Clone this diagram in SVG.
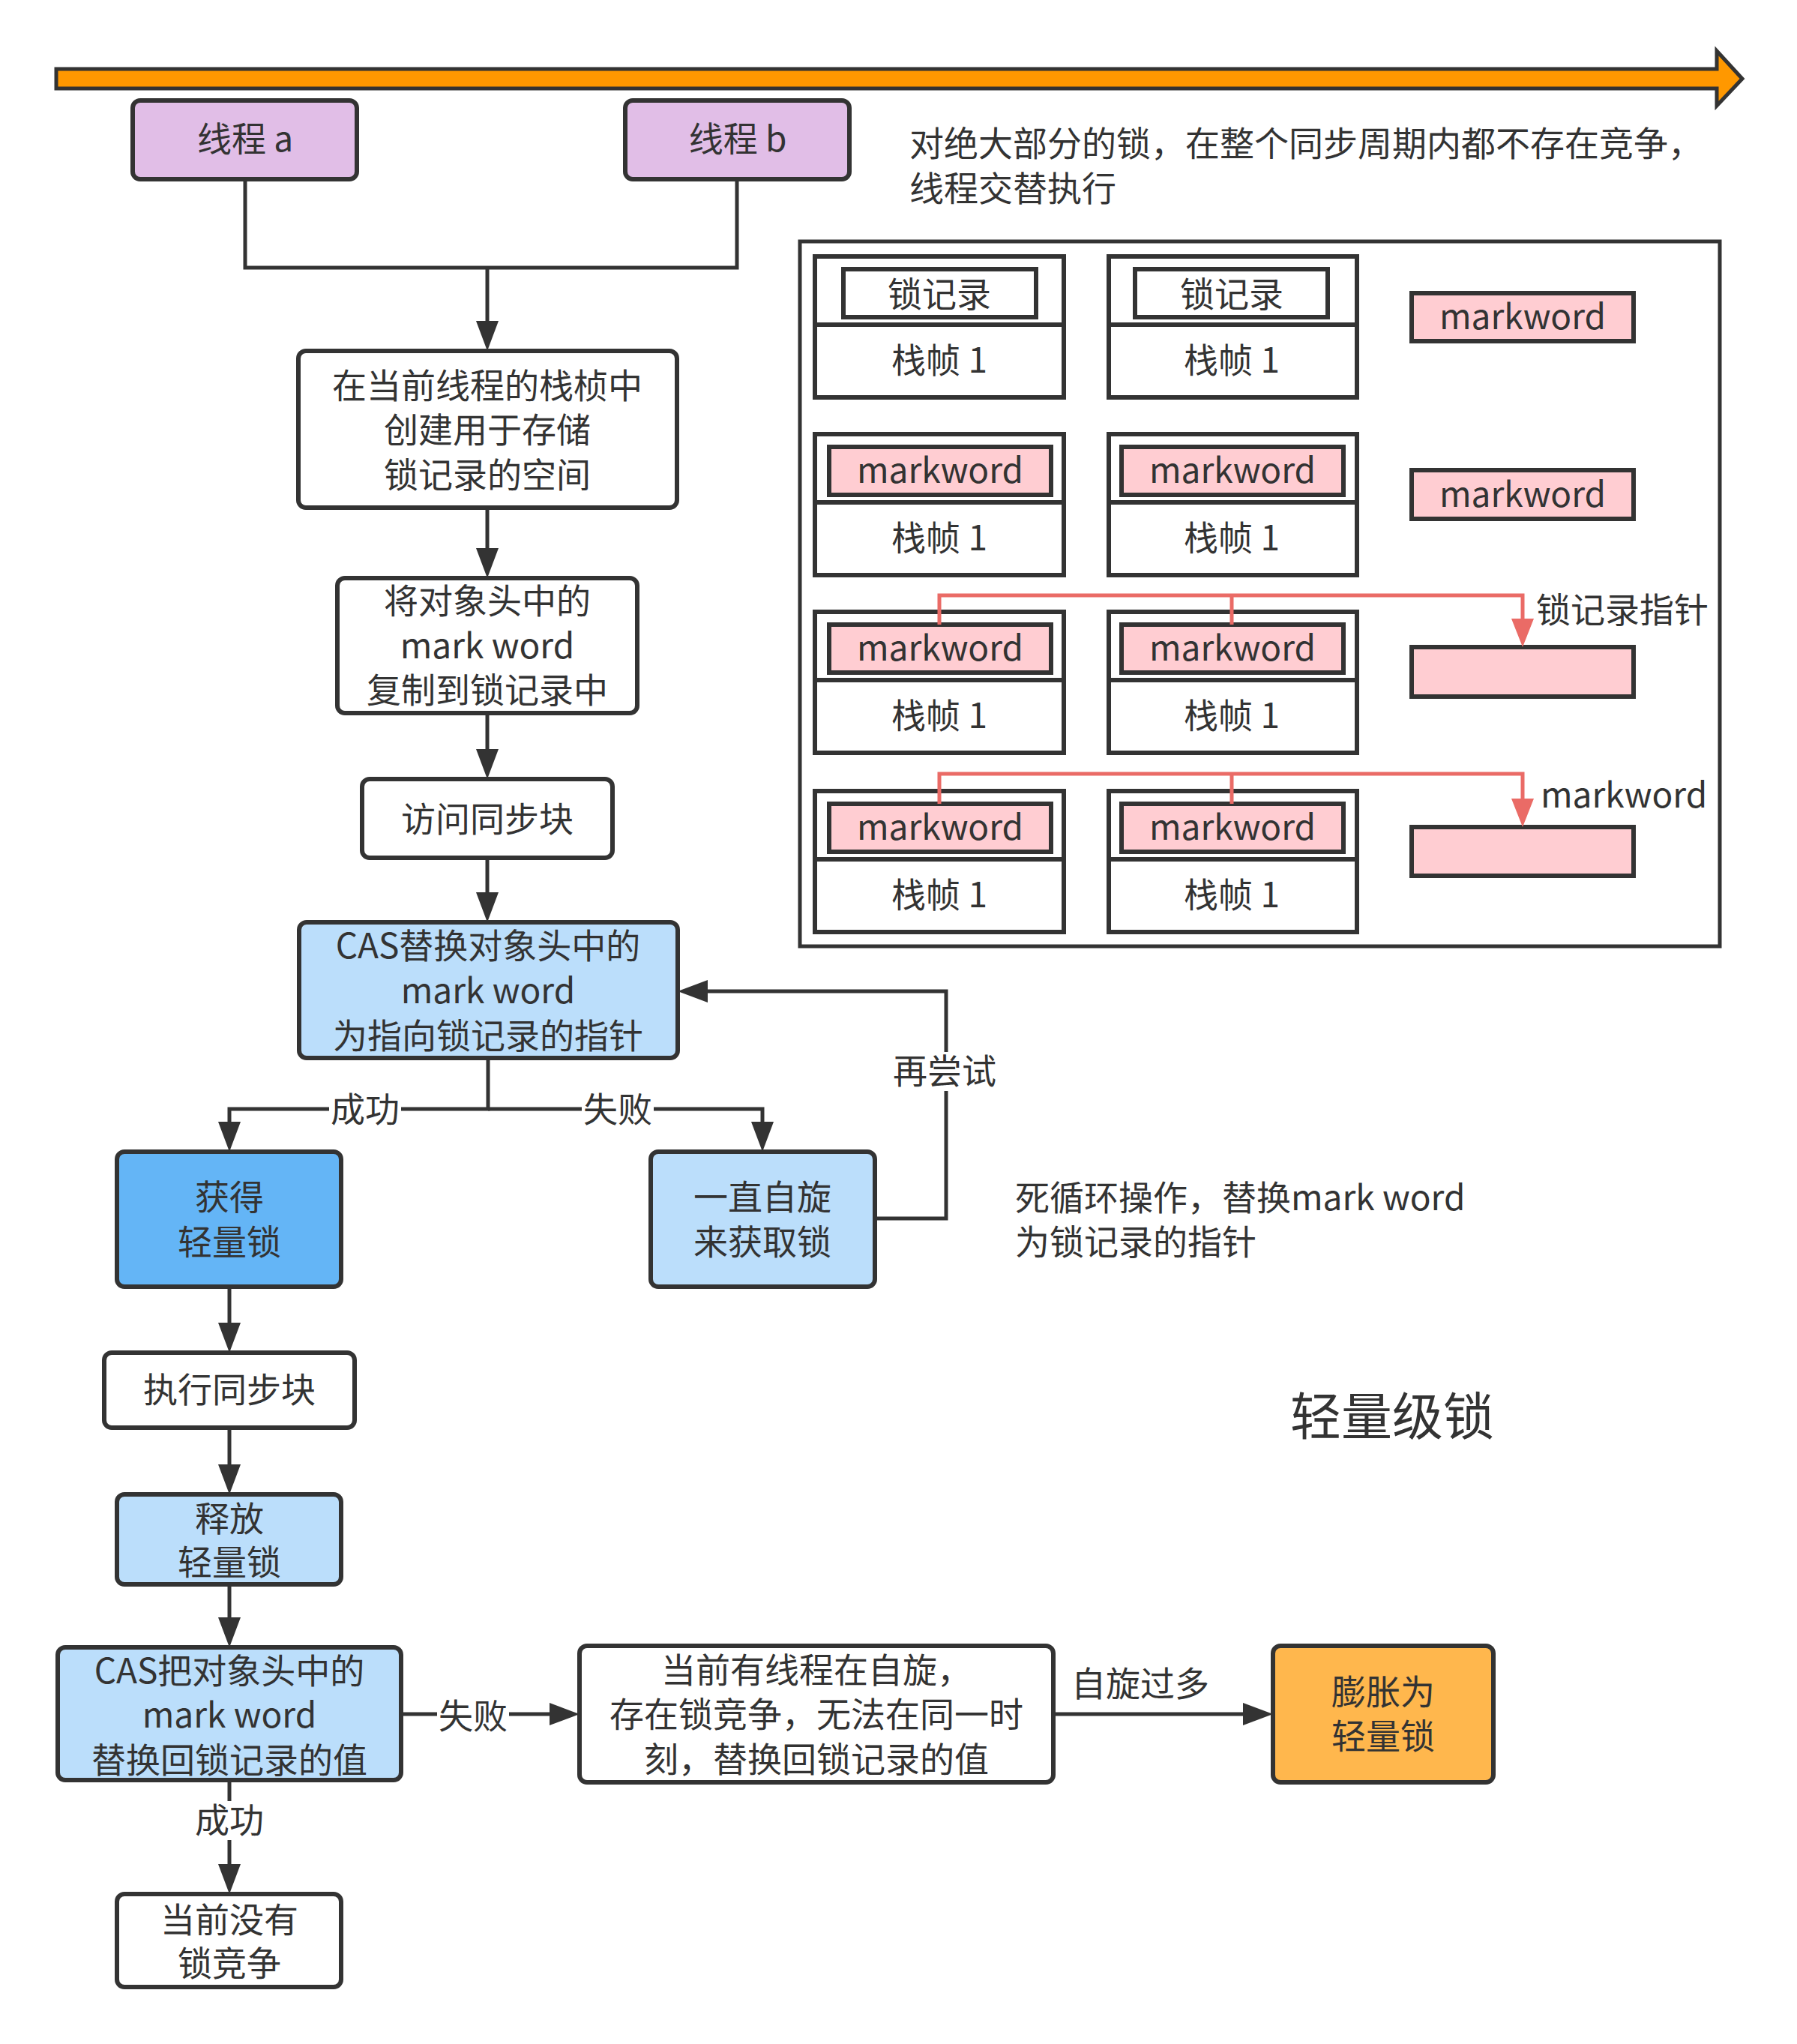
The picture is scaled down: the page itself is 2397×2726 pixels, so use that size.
<svg xmlns="http://www.w3.org/2000/svg" width="2397" height="2726" viewBox="0 0 2397 2726">
  <style>
    .node { stroke: #333333; stroke-width: 6; }
    .white { fill: #ffffff; }
    .purple { fill: #e1bee7; }
    .lblue { fill: #bbdefb; }
    .dblue { fill: #64b5f6; }
    .orange { fill: #ffb74d; }
    .pink { fill: #ffcdd2; stroke: #333333; stroke-width: 6; }
    .frame { fill: #ffffff; stroke: #333333; stroke-width: 6; }
    .t { font-family: "Noto Sans CJK SC", "Noto Sans", sans-serif; font-size: 46px; fill: #333333; text-anchor: middle; }
    .tl { font-family: "Noto Sans CJK SC", "Noto Sans", sans-serif; font-size: 46px; fill: #333333; text-anchor: start; }
    .edge { fill: none; stroke: #333333; stroke-width: 5; }
    .red { fill: none; stroke: #ea6b66; stroke-width: 5; }
    .bg { fill: #ffffff; }
  </style>
  <defs>
    <marker id="arrow" markerUnits="userSpaceOnUse" markerWidth="40" markerHeight="30" refX="32" refY="15" orient="auto">
      <path d="M0,0 L40,15 L0,30 Z" fill="#333333"/>
    </marker>
    <marker id="arrowRed" markerUnits="userSpaceOnUse" markerWidth="38" markerHeight="30" refX="30" refY="15" orient="auto">
      <path d="M0,0 L38,15 L0,30 Z" fill="#ea6b66"/>
    </marker>
  </defs>

  <rect width="2397" height="2726" fill="#ffffff"/>

  <!-- time line -->
  <polygon points="75,92 2290,92 2290,68 2324,105 2290,141 2290,118 75,118" fill="#ff9800" stroke="#333333" stroke-width="5" stroke-linejoin="miter"/>

  <!-- notes -->
  <g id="note-top">
    <text class="tl" x="1213" y="208">对绝大部分的锁，在整个同步周期内都不存在竞争，</text>
    <text class="tl" x="1213" y="268">线程交替执行</text>
  </g>
  <g id="note-spin">
    <text class="tl" x="1354" y="1614">死循环操作，替换mark word</text>
    <text class="tl" x="1354" y="1673">为锁记录的指针</text>
  </g>
  <g id="title">
    <text class="t" x="1857" y="1914" style="font-size:68px">轻量级锁</text>
  </g>

  <!-- connectors -->
  <g id="connectors">
    <path class="edge" d="M327,239 V357 H983 V239"/>
    <path class="edge" d="M650,357 V460" marker-end="url(#arrow)"/>
    <path class="edge" d="M650,677 V763" marker-end="url(#arrow)"/>
    <path class="edge" d="M650,951 V1031" marker-end="url(#arrow)"/>
    <path class="edge" d="M650,1144 V1222" marker-end="url(#arrow)"/>
    <path class="edge" d="M651,1411 V1479 H306 V1528" marker-end="url(#arrow)"/>
    <path class="edge" d="M651,1479 H1017 V1528" marker-end="url(#arrow)"/>
    <path class="edge" d="M1167,1625 H1262 V1322 H912" marker-end="url(#arrow)"/>
    <path class="edge" d="M306,1716 V1796" marker-end="url(#arrow)"/>
    <path class="edge" d="M306,1904 V1985" marker-end="url(#arrow)"/>
    <path class="edge" d="M306,2113 V2189" marker-end="url(#arrow)"/>
    <path class="edge" d="M306,2374 V2518" marker-end="url(#arrow)"/>
    <path class="edge" d="M535,2286 H765" marker-end="url(#arrow)"/>
    <path class="edge" d="M1405,2286 H1690" marker-end="url(#arrow)"/>

    <!-- edge labels -->
    <rect class="bg" x="439" y="1454" width="96" height="52"/>
    <text class="t" x="487" y="1496">成功</text>
    <rect class="bg" x="776" y="1454" width="96" height="52"/>
    <text class="t" x="824" y="1496">失败</text>
    <rect class="bg" x="1189" y="1403" width="142" height="52"/>
    <text class="t" x="1260" y="1445">再尝试</text>
    <rect class="bg" x="583" y="2263" width="96" height="52"/>
    <text class="t" x="631" y="2305">失败</text>
    <rect class="bg" x="258" y="2402" width="96" height="52"/>
    <text class="t" x="306" y="2444">成功</text>
    <text class="t" x="1521" y="2262">自旋过多</text>
  </g>

  <!-- flow nodes -->
  <g id="thread-a">
    <rect class="node purple" x="177" y="134" width="299" height="105" rx="10"/>
    <text class="t" x="327" y="202">线程 a</text>
  </g>
  <g id="thread-b">
    <rect class="node purple" x="834" y="134" width="299" height="105" rx="10"/>
    <text class="t" x="984" y="202">线程 b</text>
  </g>
  <g id="create-record">
    <rect class="node white" x="398" y="468" width="505" height="209" rx="10"/>
    <text class="t" x="650" y="531">在当前线程的栈桢中</text>
    <text class="t" x="650" y="590">创建用于存储</text>
    <text class="t" x="650" y="650">锁记录的空间</text>
  </g>
  <g id="copy-markword">
    <rect class="node white" x="450" y="771" width="400" height="180" rx="10"/>
    <text class="t" x="650" y="818">将对象头中的</text>
    <text class="t" x="650" y="878">mark word</text>
    <text class="t" x="650" y="937">复制到锁记录中</text>
  </g>
  <g id="enter-sync">
    <rect class="node white" x="483" y="1039" width="334" height="105" rx="10"/>
    <text class="t" x="650" y="1109">访问同步块</text>
  </g>
  <g id="cas-replace">
    <rect class="node lblue" x="399" y="1230" width="505" height="181" rx="10"/>
    <text class="t" x="651" y="1278">CAS替换对象头中的</text>
    <text class="t" x="651" y="1338">mark word</text>
    <text class="t" x="651" y="1398">为指向锁记录的指针</text>
  </g>
  <g id="acquired">
    <rect class="node dblue" x="156" y="1536" width="299" height="180" rx="10"/>
    <text class="t" x="306" y="1613">获得</text>
    <text class="t" x="306" y="1673">轻量锁</text>
  </g>
  <g id="spin">
    <rect class="node lblue" x="868" y="1536" width="299" height="180" rx="10"/>
    <text class="t" x="1017" y="1613">一直自旋</text>
    <text class="t" x="1017" y="1673">来获取锁</text>
  </g>
  <g id="run-sync">
    <rect class="node white" x="139" y="1804" width="334" height="100" rx="10"/>
    <text class="t" x="306" y="1870">执行同步块</text>
  </g>
  <g id="release">
    <rect class="node lblue" x="156" y="1993" width="299" height="120" rx="10"/>
    <text class="t" x="306" y="2042">释放</text>
    <text class="t" x="306" y="2100">轻量锁</text>
  </g>
  <g id="cas-restore">
    <rect class="node lblue" x="77" y="2197" width="458" height="177" rx="10"/>
    <text class="t" x="306" y="2245">CAS把对象头中的</text>
    <text class="t" x="306" y="2304">mark word</text>
    <text class="t" x="306" y="2364">替换回锁记录的值</text>
  </g>
  <g id="no-contention">
    <rect class="node white" x="156" y="2526" width="299" height="124" rx="10"/>
    <text class="t" x="306" y="2577">当前没有</text>
    <text class="t" x="306" y="2635">锁竞争</text>
  </g>
  <g id="contention">
    <rect class="node white" x="773" y="2195" width="632" height="182" rx="10"/>
    <text class="t" x="1089" y="2244">当前有线程在自旋，</text>
    <text class="t" x="1089" y="2303">存在锁竞争，无法在同一时</text>
    <text class="t" x="1089" y="2363">刻，替换回锁记录的值</text>
  </g>
  <g id="inflate">
    <rect class="node orange" x="1698" y="2195" width="294" height="182" rx="10"/>
    <text class="t" x="1845" y="2273">膨胀为</text>
    <text class="t" x="1845" y="2332">轻量锁</text>
  </g>

  <!-- stack frame panel -->
  <g id="stack-panel">
    <rect x="1067" y="322" width="1227" height="940" fill="#ffffff" stroke="#333333" stroke-width="5"/>

    <!-- row 1: empty lock records -->
    <g id="row1">
      <rect class="frame" x="1087" y="342" width="332" height="188"/>
      <line x1="1087" y1="433" x2="1419" y2="433" stroke="#333333" stroke-width="6"/>
      <rect x="1125" y="359" width="257" height="64" fill="#ffffff" stroke="#333333" stroke-width="6"/>
      <text class="t" x="1253" y="409">锁记录</text>
      <text class="t" x="1253" y="497">栈帧 1</text>

      <rect class="frame" x="1479" y="342" width="331" height="188"/>
      <line x1="1479" y1="433" x2="1810" y2="433" stroke="#333333" stroke-width="6"/>
      <rect x="1514" y="359" width="257" height="64" fill="#ffffff" stroke="#333333" stroke-width="6"/>
      <text class="t" x="1643" y="409">锁记录</text>
      <text class="t" x="1643" y="497">栈帧 1</text>

      <rect class="pink" x="1883" y="391" width="296" height="64"/>
      <text class="t" x="2031" y="439">markword</text>
    </g>

    <!-- row 2: copied mark words -->
    <g id="row2">
      <rect class="frame" x="1087" y="579" width="332" height="188"/>
      <line x1="1087" y1="670" x2="1419" y2="670" stroke="#333333" stroke-width="6"/>
      <rect class="pink" x="1106" y="596" width="296" height="64"/>
      <text class="t" x="1254" y="644">markword</text>
      <text class="t" x="1253" y="734">栈帧 1</text>

      <rect class="frame" x="1479" y="579" width="331" height="188"/>
      <line x1="1479" y1="670" x2="1810" y2="670" stroke="#333333" stroke-width="6"/>
      <rect class="pink" x="1496" y="596" width="296" height="64"/>
      <text class="t" x="1644" y="644">markword</text>
      <text class="t" x="1643" y="734">栈帧 1</text>

      <rect class="pink" x="1883" y="627" width="296" height="65"/>
      <text class="t" x="2031" y="676">markword</text>
    </g>

    <!-- row 3: header points at lock record -->
    <g id="row3">
      <rect class="frame" x="1087" y="816" width="332" height="188"/>
      <line x1="1087" y1="907" x2="1419" y2="907" stroke="#333333" stroke-width="6"/>
      <rect class="pink" x="1106" y="833" width="296" height="64"/>
      <text class="t" x="1254" y="881">markword</text>
      <text class="t" x="1253" y="971">栈帧 1</text>

      <rect class="frame" x="1479" y="816" width="331" height="188"/>
      <line x1="1479" y1="907" x2="1810" y2="907" stroke="#333333" stroke-width="6"/>
      <rect class="pink" x="1496" y="833" width="296" height="64"/>
      <text class="t" x="1644" y="881">markword</text>
      <text class="t" x="1643" y="971">栈帧 1</text>

      <rect class="pink" x="1883" y="863" width="296" height="66"/>
      <path class="red" d="M1253,833 V794 H2031 V855" marker-end="url(#arrowRed)"/>
      <path class="red" d="M1643,833 V794"/>
      <text class="tl" x="2049" y="830">锁记录指针</text>
    </g>

    <!-- row 4: mark word restored -->
    <g id="row4">
      <rect class="frame" x="1087" y="1055" width="332" height="188"/>
      <line x1="1087" y1="1146" x2="1419" y2="1146" stroke="#333333" stroke-width="6"/>
      <rect class="pink" x="1106" y="1072" width="296" height="64"/>
      <text class="t" x="1254" y="1120">markword</text>
      <text class="t" x="1253" y="1210">栈帧 1</text>

      <rect class="frame" x="1479" y="1055" width="331" height="188"/>
      <line x1="1479" y1="1146" x2="1810" y2="1146" stroke="#333333" stroke-width="6"/>
      <rect class="pink" x="1496" y="1072" width="296" height="64"/>
      <text class="t" x="1644" y="1120">markword</text>
      <text class="t" x="1643" y="1210">栈帧 1</text>

      <rect class="pink" x="1883" y="1103" width="296" height="65"/>
      <path class="red" d="M1253,1072 V1032 H2031 V1095" marker-end="url(#arrowRed)"/>
      <path class="red" d="M1643,1072 V1032"/>
      <text class="tl" x="2055" y="1077">markword</text>
    </g>
  </g>
</svg>
